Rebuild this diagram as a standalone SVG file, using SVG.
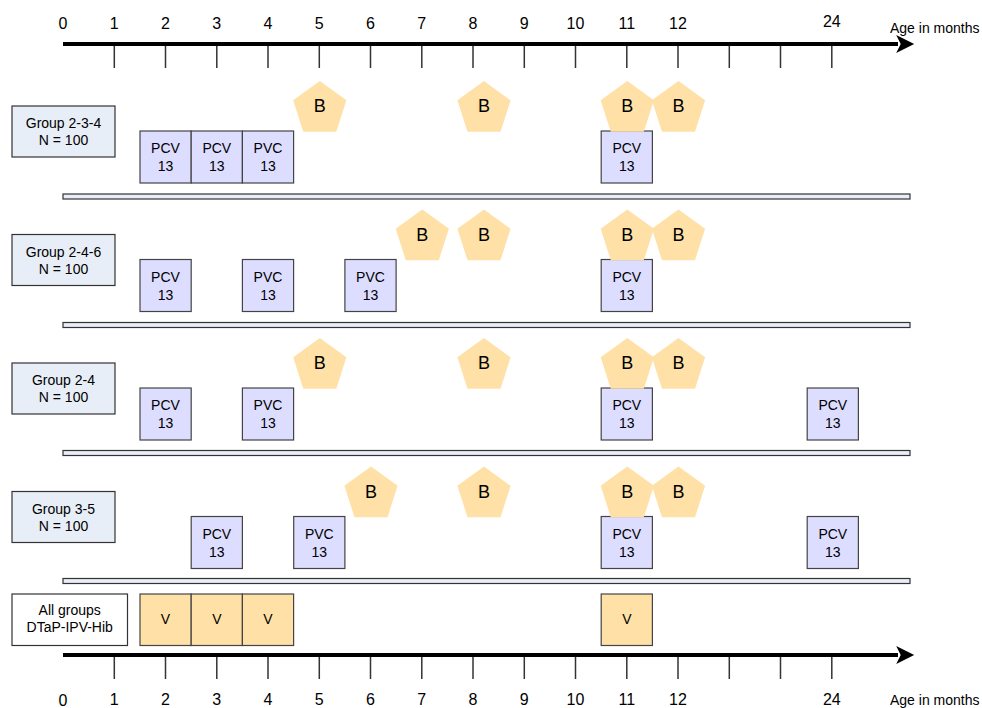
<svg xmlns="http://www.w3.org/2000/svg" width="982" height="708" viewBox="0 0 982 708">
<style>
text{font-family:"Liberation Sans",Arial,sans-serif;fill:#000;}
.num{font-size:16px;text-anchor:middle;}
.age{font-size:14px;}
.lbl{fill:#E8EEF7;stroke:#333;stroke-width:1.2;}
.lblw{fill:#fff;stroke:#333;stroke-width:1.2;}
.pcv{fill:#DDDDFF;stroke:#444;stroke-width:1.2;}
.v{fill:#FFE0A6;stroke:#444;stroke-width:1.2;}
.pent{fill:#FFE0A6;stroke:none;}
.t13{font-size:14px;text-anchor:middle;}
.tb{font-size:18px;text-anchor:middle;}
.sep{fill:#E8EEF7;stroke:#333;stroke-width:1.2;}
.axis{stroke:#000;stroke-width:4;fill:none;}
.tick{stroke:#333;stroke-width:1.5;}
</style>
<defs>
<polygon id="pg" class="pent" points="0,-28 26.6,-8.65 16.5,22.65 -16.5,22.65 -26.6,-8.65"/>
<marker id="ah" viewBox="0 0 10 10" refX="1" refY="5" markerWidth="5" markerHeight="4.5" orient="auto" markerUnits="strokeWidth">
<path d="M0,0 L10,5 L0,10 L2.5,5 Z" fill="#000"/>
</marker>
</defs>

<g id="connectors">
<g id="top-axis">
<line class="axis" x1="63" y1="44" x2="898" y2="44" marker-end="url(#ah)"/>
<line class="tick" x1="114.3" y1="46" x2="114.3" y2="68"/>
<line class="tick" x1="165.5" y1="46" x2="165.5" y2="68"/>
<line class="tick" x1="216.8" y1="46" x2="216.8" y2="68"/>
<line class="tick" x1="268" y1="46" x2="268" y2="68"/>
<line class="tick" x1="319.3" y1="46" x2="319.3" y2="68"/>
<line class="tick" x1="370.5" y1="46" x2="370.5" y2="68"/>
<line class="tick" x1="421.8" y1="46" x2="421.8" y2="68"/>
<line class="tick" x1="473" y1="46" x2="473" y2="68"/>
<line class="tick" x1="524.3" y1="46" x2="524.3" y2="68"/>
<line class="tick" x1="575.5" y1="46" x2="575.5" y2="68"/>
<line class="tick" x1="626.8" y1="46" x2="626.8" y2="68"/>
<line class="tick" x1="678" y1="46" x2="678" y2="68"/>
<line class="tick" x1="729.3" y1="46" x2="729.3" y2="68"/>
<line class="tick" x1="780.5" y1="46" x2="780.5" y2="68"/>
<line class="tick" x1="831.8" y1="46" x2="831.8" y2="68"/>
</g>
<g id="bottom-axis">
<line class="axis" x1="63" y1="655" x2="898" y2="655" marker-end="url(#ah)"/>
<line class="tick" x1="114.3" y1="657" x2="114.3" y2="679"/>
<line class="tick" x1="165.5" y1="657" x2="165.5" y2="679"/>
<line class="tick" x1="216.8" y1="657" x2="216.8" y2="679"/>
<line class="tick" x1="268" y1="657" x2="268" y2="679"/>
<line class="tick" x1="319.3" y1="657" x2="319.3" y2="679"/>
<line class="tick" x1="370.5" y1="657" x2="370.5" y2="679"/>
<line class="tick" x1="421.8" y1="657" x2="421.8" y2="679"/>
<line class="tick" x1="473" y1="657" x2="473" y2="679"/>
<line class="tick" x1="524.3" y1="657" x2="524.3" y2="679"/>
<line class="tick" x1="575.5" y1="657" x2="575.5" y2="679"/>
<line class="tick" x1="626.8" y1="657" x2="626.8" y2="679"/>
<line class="tick" x1="678" y1="657" x2="678" y2="679"/>
<line class="tick" x1="729.3" y1="657" x2="729.3" y2="679"/>
<line class="tick" x1="780.5" y1="657" x2="780.5" y2="679"/>
<line class="tick" x1="831.8" y1="657" x2="831.8" y2="679"/>
</g>
</g>

<g id="axis-labels-top">
<text class="num" x="63" y="29">0</text>
<text class="num" x="114.3" y="29">1</text>
<text class="num" x="165.5" y="29">2</text>
<text class="num" x="216.8" y="29">3</text>
<text class="num" x="268" y="29">4</text>
<text class="num" x="319.3" y="29">5</text>
<text class="num" x="370.5" y="29">6</text>
<text class="num" x="421.8" y="29">7</text>
<text class="num" x="473" y="29">8</text>
<text class="num" x="524.3" y="29">9</text>
<text class="num" x="575.5" y="29">10</text>
<text class="num" x="626.8" y="29">11</text>
<text class="num" x="678" y="29">12</text>
<text class="num" x="831.8" y="27">24</text>
<text class="age" x="890" y="33">Age in months</text>
</g>
<g id="axis-labels-bottom">
<text class="num" x="63" y="706">0</text>
<text class="num" x="114.3" y="705">1</text>
<text class="num" x="165.5" y="705">2</text>
<text class="num" x="216.8" y="705">3</text>
<text class="num" x="268" y="705">4</text>
<text class="num" x="319.3" y="705">5</text>
<text class="num" x="370.5" y="705">6</text>
<text class="num" x="421.8" y="705">7</text>
<text class="num" x="473" y="705">8</text>
<text class="num" x="524.3" y="705">9</text>
<text class="num" x="575.5" y="705">10</text>
<text class="num" x="626.8" y="705">11</text>
<text class="num" x="678" y="705">12</text>
<text class="num" x="831.8" y="705">24</text>
<text class="age" x="890" y="705">Age in months</text>
</g>

<!-- Row 1 -->
<g id="label-g234"><rect class="lbl" x="12" y="106" width="103" height="51"/><text class="t13" x="63.5" y="128">Group 2-3-4</text><text class="t13" x="63.5" y="145">N = 100</text></g>
<g id="r1-pcv2"><rect class="pcv" x="140" y="131" width="51.2" height="52"/><text class="t13" x="165.5" y="153">PCV</text><text class="t13" x="165.5" y="171">13</text></g>
<g id="r1-pcv3"><rect class="pcv" x="191.2" y="131" width="51.2" height="52"/><text class="t13" x="216.8" y="153">PCV</text><text class="t13" x="216.8" y="171">13</text></g>
<g id="r1-pvc4"><rect class="pcv" x="242.4" y="131" width="51.2" height="52"/><text class="t13" x="268" y="153">PVC</text><text class="t13" x="268" y="171">13</text></g>
<g id="r1-pcv11"><rect class="pcv" x="601.2" y="131" width="51.2" height="52"/><text class="t13" x="626.8" y="153">PCV</text><text class="t13" x="626.8" y="171">13</text></g>
<g id="r1-b5"><use href="#pg" x="319.8" y="109"/><text class="tb" x="319.8" y="112">B</text></g>
<g id="r1-b8"><use href="#pg" x="484" y="109"/><text class="tb" x="484" y="112">B</text></g>
<g id="r1-b11"><use href="#pg" x="627.3" y="109"/><text class="tb" x="627.3" y="112">B</text></g>
<g id="r1-b12"><use href="#pg" x="678.5" y="109"/><text class="tb" x="678.5" y="112">B</text></g>
<g id="sep1"><rect class="sep" x="63" y="194" width="847" height="5"/></g>

<!-- Row 2 -->
<g id="label-g246"><rect class="lbl" x="12" y="234.5" width="103" height="51"/><text class="t13" x="63.5" y="256.5">Group 2-4-6</text><text class="t13" x="63.5" y="273.5">N = 100</text></g>
<g id="r2-pcv2"><rect class="pcv" x="140" y="259.5" width="51.2" height="52"/><text class="t13" x="165.5" y="281.5">PCV</text><text class="t13" x="165.5" y="299.5">13</text></g>
<g id="r2-pvc4"><rect class="pcv" x="242.4" y="259.5" width="51.2" height="52"/><text class="t13" x="268" y="281.5">PVC</text><text class="t13" x="268" y="299.5">13</text></g>
<g id="r2-pvc6"><rect class="pcv" x="344.9" y="259.5" width="51.2" height="52"/><text class="t13" x="370.5" y="281.5">PVC</text><text class="t13" x="370.5" y="299.5">13</text></g>
<g id="r2-pcv11"><rect class="pcv" x="601.2" y="259.5" width="51.2" height="52"/><text class="t13" x="626.8" y="281.5">PCV</text><text class="t13" x="626.8" y="299.5">13</text></g>
<g id="r2-b7"><use href="#pg" x="422.3" y="237.5"/><text class="tb" x="422.3" y="240.5">B</text></g>
<g id="r2-b8"><use href="#pg" x="484" y="237.5"/><text class="tb" x="484" y="240.5">B</text></g>
<g id="r2-b11"><use href="#pg" x="627.3" y="237.5"/><text class="tb" x="627.3" y="240.5">B</text></g>
<g id="r2-b12"><use href="#pg" x="678.5" y="237.5"/><text class="tb" x="678.5" y="240.5">B</text></g>
<g id="sep2"><rect class="sep" x="63" y="322.5" width="847" height="5"/></g>

<!-- Row 3 -->
<g id="label-g24"><rect class="lbl" x="12" y="363" width="103" height="51"/><text class="t13" x="63.5" y="385">Group 2-4</text><text class="t13" x="63.5" y="402">N = 100</text></g>
<g id="r3-pcv2"><rect class="pcv" x="140" y="388" width="51.2" height="52"/><text class="t13" x="165.5" y="410">PCV</text><text class="t13" x="165.5" y="428">13</text></g>
<g id="r3-pvc4"><rect class="pcv" x="242.4" y="388" width="51.2" height="52"/><text class="t13" x="268" y="410">PVC</text><text class="t13" x="268" y="428">13</text></g>
<g id="r3-pcv11"><rect class="pcv" x="601.2" y="388" width="51.2" height="52"/><text class="t13" x="626.8" y="410">PCV</text><text class="t13" x="626.8" y="428">13</text></g>
<g id="r3-pcv24"><rect class="pcv" x="807.2" y="388" width="51.2" height="52"/><text class="t13" x="832.8" y="410">PCV</text><text class="t13" x="832.8" y="428">13</text></g>
<g id="r3-b5"><use href="#pg" x="319.8" y="366"/><text class="tb" x="319.8" y="369">B</text></g>
<g id="r3-b8"><use href="#pg" x="484" y="366"/><text class="tb" x="484" y="369">B</text></g>
<g id="r3-b11"><use href="#pg" x="627.3" y="366"/><text class="tb" x="627.3" y="369">B</text></g>
<g id="r3-b12"><use href="#pg" x="678.5" y="366"/><text class="tb" x="678.5" y="369">B</text></g>
<g id="sep3"><rect class="sep" x="63" y="450.5" width="847" height="5"/></g>

<!-- Row 4 -->
<g id="label-g35"><rect class="lbl" x="12" y="491.5" width="103" height="51"/><text class="t13" x="63.5" y="513.5">Group 3-5</text><text class="t13" x="63.5" y="530.5">N = 100</text></g>
<g id="r4-pcv3"><rect class="pcv" x="191.2" y="516.5" width="51.2" height="52"/><text class="t13" x="216.8" y="538.5">PCV</text><text class="t13" x="216.8" y="556.5">13</text></g>
<g id="r4-pvc5"><rect class="pcv" x="293.7" y="516.5" width="51.2" height="52"/><text class="t13" x="319.3" y="538.5">PVC</text><text class="t13" x="319.3" y="556.5">13</text></g>
<g id="r4-pcv11"><rect class="pcv" x="601.2" y="516.5" width="51.2" height="52"/><text class="t13" x="626.8" y="538.5">PCV</text><text class="t13" x="626.8" y="556.5">13</text></g>
<g id="r4-pcv24"><rect class="pcv" x="807.2" y="516.5" width="51.2" height="52"/><text class="t13" x="832.8" y="538.5">PCV</text><text class="t13" x="832.8" y="556.5">13</text></g>
<g id="r4-b6"><use href="#pg" x="371" y="494.5"/><text class="tb" x="371" y="497.5">B</text></g>
<g id="r4-b8"><use href="#pg" x="484" y="494.5"/><text class="tb" x="484" y="497.5">B</text></g>
<g id="r4-b11"><use href="#pg" x="627.3" y="494.5"/><text class="tb" x="627.3" y="497.5">B</text></g>
<g id="r4-b12"><use href="#pg" x="678.5" y="494.5"/><text class="tb" x="678.5" y="497.5">B</text></g>
<g id="sep4"><rect class="sep" x="63" y="578.5" width="847" height="5"/></g>

<!-- All groups -->
<g id="label-all"><rect class="lblw" x="12" y="594" width="115.5" height="51.5"/><text class="t13" x="69.7" y="615">All groups</text><text class="t13" x="69.7" y="632">DTaP-IPV-Hib</text></g>
<g id="v2"><rect class="v" x="140" y="594" width="51.2" height="51.5"/><text class="t13" x="165.5" y="624">V</text></g>
<g id="v3"><rect class="v" x="191.2" y="594" width="51.2" height="51.5"/><text class="t13" x="216.8" y="624">V</text></g>
<g id="v4"><rect class="v" x="242.4" y="594" width="51.2" height="51.5"/><text class="t13" x="268" y="624">V</text></g>
<g id="v11"><rect class="v" x="601.2" y="594" width="51.2" height="51.5"/><text class="t13" x="626.8" y="624">V</text></g>
</svg>
